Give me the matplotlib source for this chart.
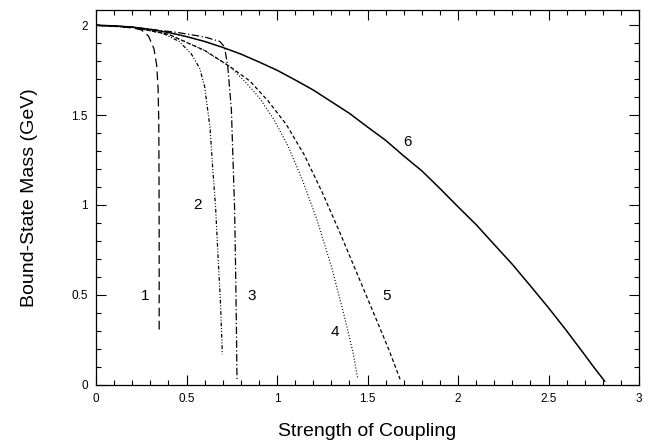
import matplotlib
matplotlib.use("Agg")
import matplotlib.pyplot as plt
from matplotlib.ticker import MultipleLocator, FuncFormatter

plt.rcParams['font.family'] = ['Liberation Sans', 'DejaVu Sans']

# coupling strength vs bound-state mass, one curve per case
x1 = [0.0, 0.10, 0.20, 0.25, 0.29, 0.32, 0.335, 0.343, 0.347, 0.348, 0.349, 0.349]
y1 = [2.0, 1.995, 1.985, 1.975, 1.94, 1.87, 1.78, 1.65, 1.45, 1.20, 0.80, 0.29]

x2 = [0.0, 0.20, 0.37, 0.46, 0.527, 0.573, 0.60, 0.63, 0.645, 0.66, 0.675, 0.688, 0.698]
y2 = [2.0, 1.99, 1.955, 1.91, 1.84, 1.76, 1.66, 1.43, 1.20, 1.00, 0.70, 0.45, 0.17]

x3 = [0.0, 0.24, 0.45, 0.60, 0.684, 0.71, 0.728, 0.748, 0.766, 0.772, 0.776, 0.779]
y3 = [2.0, 1.985, 1.96, 1.935, 1.91, 1.88, 1.77, 1.53, 0.97, 0.60, 0.30, 0.02]

x4 = [0.0, 0.20, 0.40, 0.60, 0.74, 0.82, 0.90, 0.98, 1.06, 1.14, 1.22, 1.30, 1.37, 1.42, 1.447]
y4 = [2.0, 1.99, 1.95, 1.86, 1.77, 1.69, 1.60, 1.48, 1.33, 1.14, 0.92, 0.66, 0.39, 0.18, 0.03]

x5 = [0.0, 0.20, 0.40, 0.60, 0.74, 0.85, 0.95, 1.05, 1.15, 1.25, 1.35, 1.45, 1.55, 1.62, 1.68]
y5 = [2.0, 1.99, 1.95, 1.86, 1.77, 1.69, 1.58, 1.45, 1.28, 1.07, 0.84, 0.60, 0.36, 0.19, 0.03]

x6 = [0.0, 0.1, 0.2, 0.3, 0.4, 0.5, 0.6, 0.7, 0.8, 0.9, 1.0, 1.1, 1.2, 1.3, 1.4,
      1.5, 1.6, 1.7, 1.8, 1.9, 2.0, 2.1, 2.2, 2.3, 2.4, 2.5, 2.6, 2.7, 2.75, 2.81]
y6 = [2.0, 1.997, 1.99, 1.977, 1.96, 1.937, 1.91, 1.877, 1.84, 1.796, 1.75, 1.696, 1.64, 1.575, 1.51,
      1.434, 1.36, 1.273, 1.19, 1.092, 0.99, 0.891, 0.78, 0.67, 0.55, 0.428, 0.30, 0.166, 0.098, 0.02]

labels = ['1', '2', '3', '4', '5', '6']
label_x = [0.27, 0.56, 0.862, 1.32, 1.606, 1.72]
label_y = [0.495, 1.0, 0.495, 0.295, 0.495, 1.35]

fig = plt.figure(figsize=(6.58, 4.42), dpi=100)
ax = fig.add_axes([96 / 658, 57.3 / 442, 543 / 658, 374.7 / 442])

lw = 0.9
ax.plot(x1, y1, color='black', lw=lw, dashes=(7, 3.5))
ax.plot(x2, y2, color='black', lw=lw, dashes=(3, 1.5, 0.8, 1.5, 0.8, 1.5))
ax.plot(x3, y3, color='black', lw=lw, dashes=(6, 2, 1, 2))
ax.plot(x4, y4, color='black', lw=lw, dashes=(0.8, 1.6))
ax.plot(x5, y5, color='black', lw=lw, dashes=(3, 2))
ax.plot(x6, y6, color='black', lw=1.1)

for t, lx, ly in zip(labels, label_x, label_y):
    ax.text(lx, ly, t, fontsize=11, ha='center', va='center')

ax.set_xlim(0, 3)
ax.set_ylim(0, 2.085)
ax.xaxis.set_major_locator(MultipleLocator(0.5))
ax.xaxis.set_minor_locator(MultipleLocator(0.1))
ax.yaxis.set_major_locator(MultipleLocator(0.5))
ax.yaxis.set_minor_locator(MultipleLocator(0.1))
fmt = FuncFormatter(lambda v, p: '%g' % v)
ax.xaxis.set_major_formatter(fmt)
ax.yaxis.set_major_formatter(fmt)

ax.tick_params(which='both', direction='in', top=True, right=True, width=0.8, labelsize=8.5, pad=6)
ax.tick_params(which='major', length=7)
ax.tick_params(which='minor', length=3.5)
for s in ax.spines.values():
    s.set_linewidth(0.9)

ax.set_xlabel('Strength of Coupling', fontsize=14, labelpad=13)
ax.set_ylabel('Bound-State Mass (GeV)', fontsize=14, labelpad=24)

fig.savefig('out.png', dpi=100)
